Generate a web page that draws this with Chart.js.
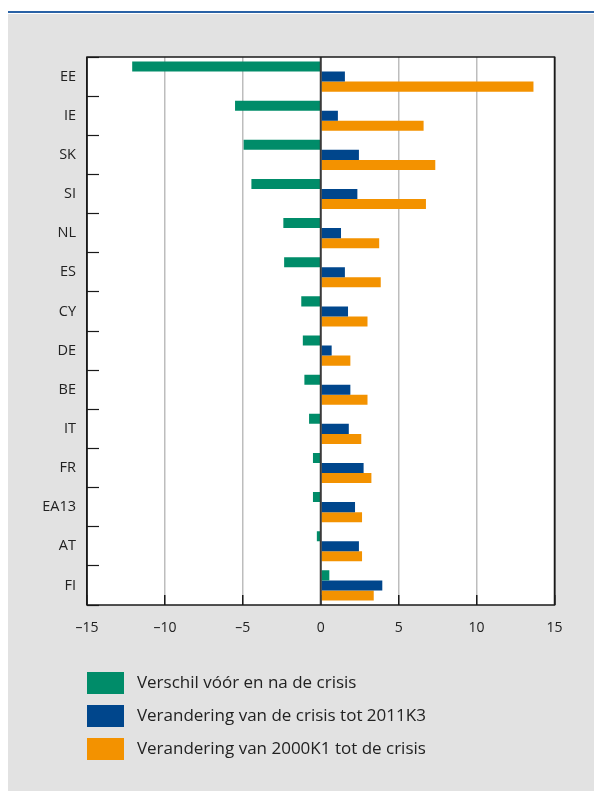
<!DOCTYPE html>
<html>
<head>
<meta charset="utf-8">
<script src="https://cdn.jsdelivr.net/npm/chart.js@4.4.1/dist/chart.umd.min.js"></script>
<style>
  html, body { margin: 0; padding: 0; background: #fff; }
  #topline { position: absolute; left: 8px; right: 0; top: 11px; height: 2px; background: #2a62a6; }
  #panel { position: absolute; left: 8px; top: 14px; width: 586px; height: 777px; background: #e2e2e2; }
</style>
</head>
<body>
<div id="topline"></div>
<div id="panel"><canvas id="barChart"></canvas></div>
<script>
// country codes, top to bottom
const categories = ['EE', 'IE', 'SK', 'SI', 'NL', 'ES', 'CY', 'DE', 'BE', 'IT', 'FR', 'EA13', 'AT', 'FI'];

// series (percentage points)
const verschil = [-12.1, -5.5, -4.95, -4.45, -2.4, -2.35, -1.25, -1.15, -1.05, -0.75, -0.5, -0.5, -0.25, 0.55];
const crisisTot2011 = [1.55, 1.1, 2.45, 2.35, 1.3, 1.55, 1.75, 0.7, 1.9, 1.8, 2.75, 2.2, 2.45, 3.95];
const van2000TotCrisis = [13.65, 6.6, 7.35, 6.75, 3.75, 3.85, 3.0, 1.9, 3.0, 2.6, 3.25, 2.65, 2.65, 3.4];

const seriesLabels = [
  'Verschil vóór en na de crisis',
  'Verandering van de crisis tot 2011K3',
  'Verandering van 2000K1 tot de crisis'
];

// x axis range
const xMin = -15;
const xMax = 15;
const xStep = 5;

Chart.defaults.font.family = "'Open Sans', sans-serif";
Chart.defaults.color = '#222';

const LEGEND_PAD = 11;

// white plot area, zero line on top of the bars, black frame
const framePlugin = {
  id: 'frame',
  afterLayout(chart) {
    // line the legend boxes up with the left edge of the plot
    if (chart.legend) {
      chart.legend.left -= LEGEND_PAD;
      chart.legend.right -= LEGEND_PAD;
    }
  },
  beforeDraw(chart) {
    const { ctx, chartArea: a } = chart;
    ctx.save();
    ctx.fillStyle = '#fff';
    ctx.fillRect(a.left, a.top, a.right - a.left, a.bottom - a.top);
    ctx.restore();
  },
  afterDatasetsDraw(chart) {
    const { ctx, chartArea: a } = chart;
    const x0 = chart.scales.x.getPixelForValue(0);
    ctx.save();
    ctx.strokeStyle = '#3a3a3a';
    ctx.lineWidth = 2;
    ctx.beginPath();
    ctx.moveTo(x0, a.top);
    ctx.lineTo(x0, a.bottom);
    ctx.stroke();
    ctx.strokeStyle = '#1a1a1a';
    ctx.lineWidth = 1.5;
    ctx.strokeRect(a.left, a.top, a.right - a.left, a.bottom - a.top);
    ctx.restore();
  }
};

const ctx = document.getElementById('barChart').getContext('2d');

new Chart(ctx, {
  type: 'bar',
  data: {
    labels: categories,
    datasets: [
      { label: seriesLabels[0], data: verschil, backgroundColor: '#008c69' },
      { label: seriesLabels[1], data: crisisTot2011, backgroundColor: '#00468c' },
      { label: seriesLabels[2], data: van2000TotCrisis, backgroundColor: '#f39200' }
    ]
  },
  options: {
    indexAxis: 'y',
    responsive: true,
    maintainAspectRatio: false,
    animation: false,
    datasets: {
      bar: { categoryPercentage: 0.77, barPercentage: 1.0 }
    },
    layout: {
      padding: { left: 0, right: 39.5, top: 43, bottom: 21 }
    },
    scales: {
      x: {
        min: xMin,
        max: xMax,
        border: { display: false },
        grid: {
          color: c => (c.tick && (c.tick.value === xMin || c.tick.value === xMax)) ? '#1a1a1a' : '#bdbdbd',
          lineWidth: 1.5,
          tickLength: -10,
          tickColor: '#1a1a1a',
          tickWidth: 1.5
        },
        ticks: {
          stepSize: xStep,
          padding: 25,
          font: { size: 14 },
          color: '#222',
          callback: v => v < 0 ? '\u2013' + Math.abs(v) : String(v)
        },
        afterFit(scale) { scale.height = 56; }
      },
      y: {
        border: { display: false },
        grid: {
          drawOnChartArea: false,
          tickLength: -12,
          tickColor: '#1a1a1a',
          tickWidth: 1.2
        },
        ticks: {
          padding: 23,
          font: { size: 14.5 },
          color: '#222'
        },
        afterFit(scale) { scale.width = 79; }
      }
    },
    plugins: {
      legend: {
        position: 'bottom',
        align: 'start',
        fullSize: false,
        labels: {
          boxWidth: 37,
          boxHeight: 22,
          padding: LEGEND_PAD,
          color: '#222',
          font: { size: 17 },
          generateLabels(chart) {
            const items = Chart.defaults.plugins.legend.labels.generateLabels(chart);
            items.forEach(it => { it.text = ' ' + it.text; it.lineWidth = 0; });
            return items;
          }
        }
      },
      tooltip: { enabled: false }
    }
  },
  plugins: [framePlugin]
});
</script>
</body>
</html>
